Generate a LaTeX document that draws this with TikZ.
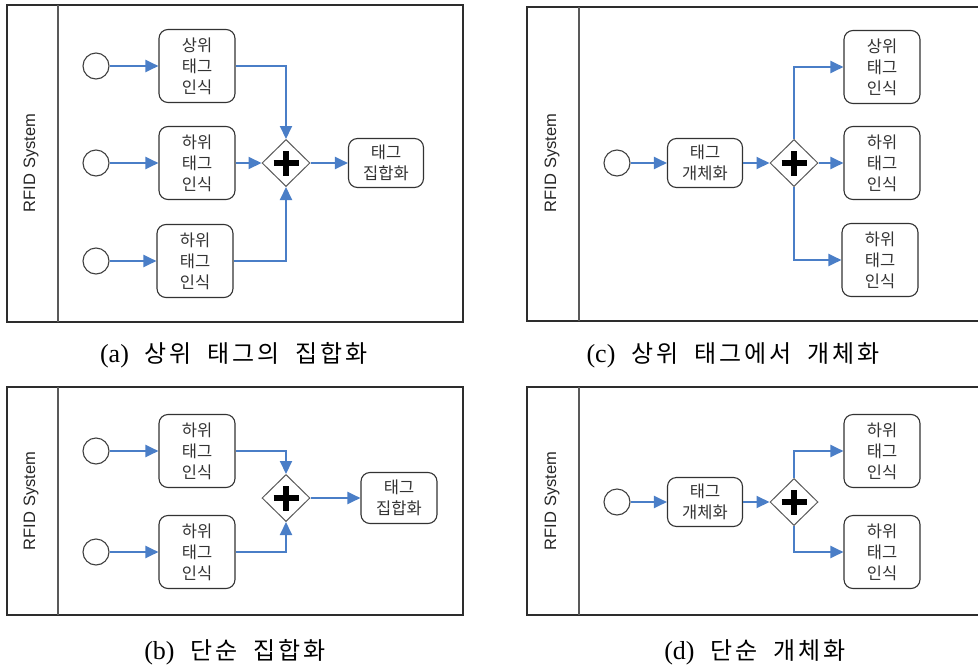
\documentclass[tikz,border=0pt]{standalone}
\usepackage{fontspec}
\setmainfont{Liberation Serif}
\newfontfamily\kr{Noto Sans CJK KR}
\newfontfamily\krcap[LetterSpace=12]{Noto Sans CJK KR}
\newfontfamily\rfidfont{Liberation Sans}
\usetikzlibrary{shapes.geometric,arrows.meta}
\definecolor{flowblue}{RGB}{74,126,199}
\definecolor{frame}{RGB}{45,45,45}
\newcommand{\capkr}[1]{{\krcap\fontsize{24}{27}\selectfont #1}}
\begin{document}
\begin{tikzpicture}[x=1pt,y=-1pt,
  lanebox/.style={draw=frame,line width=1.4pt},
  lanediv/.style={draw=gray!70!black,line width=1.2pt},
  lanelabel/.style={rotate=90,font=\rfidfont\fontsize{16.5}{18}\selectfont,text=black!85},
  startev/.style={circle,draw=black!75,line width=1.1pt,minimum size=26pt,inner sep=0pt,fill=white},
  taskbox/.style={draw=black!80,line width=1.1pt,rounded corners=9pt,fill=white,align=center,inner sep=0pt,
     font=\kr\fontsize{16.5}{21}\selectfont,text=black!80},
  tall/.style={taskbox,minimum width=76pt,minimum height=73pt},
  short/.style={taskbox,minimum width=75pt,minimum height=49pt},
  gateway/.style={diamond,draw=black!65,line width=1pt,minimum width=48pt,minimum height=47pt,inner sep=0pt,fill=white},
  plusbar/.style={line width=5.5pt,black},
  flow/.style={draw=flowblue,line width=2pt,-{Triangle[length=13pt,width=12pt]}},
  caption/.style={font=\fontsize{26}{29}\selectfont}
]
\useasboundingbox (0,0) rectangle (978,670);

% ---------------- (a)
\draw[lanebox] (7,5) rectangle (463,322);
\draw[lanediv] (58,5) -- (58,322);
\node[lanelabel] (la) at (31,163) {RFID System};
\node[startev] (sa1) at (96,66) {};
\node[startev] (sa2) at (96,163) {};
\node[startev] (sa3) at (96,261) {};
\node[tall] (ta1) at (197,66) {상위\\태그\\인식};
\node[tall] (ta2) at (197,163) {하위\\태그\\인식};
\node[tall] (ta3) at (195,261) {하위\\태그\\인식};
\node[gateway] (ga) at (286,163) {};
\node[short] (ja) at (386,163) {태그\\집합화};
\draw[flow] (sa1) -- (ta1);
\draw[flow] (sa2) -- (ta2);
\draw[flow] (sa3) -- (ta3);
\draw[flow] (ta1.east) -| (ga.north);
\draw[flow] (ta2) -- (ga);
\draw[flow] (ta3.east) -| (ga.south);
\draw[flow] (ga) -- (ja);
\node[caption] (capa) at (234,355) {(a)\hspace{16pt}\capkr{상위}\hspace{16pt}\capkr{태그의}\hspace{16pt}\capkr{집합화}};

% ---------------- (c)
\draw[lanebox] (978,7) -- (527,7) -- (527,321) -- (978,321);
\draw[lanediv] (579,7) -- (579,321);
\node[lanelabel] (lc) at (552,163) {RFID System};
\node[startev] (sc) at (617,163) {};
\node[short] (tc) at (705,163) {태그\\개체화};
\node[gateway] (gc) at (794,163) {};
\node[tall] (uc1) at (882,67) {상위\\태그\\인식};
\node[tall] (uc2) at (882,163) {하위\\태그\\인식};
\node[tall] (uc3) at (880,260) {하위\\태그\\인식};
\draw[flow] (sc) -- (tc);
\draw[flow] (tc) -- (gc);
\draw[flow] (gc.north) |- (uc1.west);
\draw[flow] (gc) -- (uc2);
\draw[flow] (gc.south) |- (uc3.west);
\node[caption] (capc) at (733,355) {(c)\hspace{16pt}\capkr{상위}\hspace{16pt}\capkr{태그에서}\hspace{16pt}\capkr{개체화}};

% ---------------- (b)
\draw[lanebox] (7,387) rectangle (463,615);
\draw[lanediv] (58,387) -- (58,615);
\node[lanelabel] (lb) at (31,501) {RFID System};
\node[startev] (sb1) at (96,451) {};
\node[startev] (sb2) at (96,552) {};
\node[tall] (tb1) at (197,451) {하위\\태그\\인식};
\node[tall] (tb2) at (197,552) {하위\\태그\\인식};
\node[gateway] (gb) at (286,498) {};
\node[taskbox,minimum width=76pt,minimum height=51pt] (jb) at (399,498) {태그\\집합화};
\draw[flow] (sb1) -- (tb1);
\draw[flow] (sb2) -- (tb2);
\draw[flow] (tb1.east) -| (gb.north);
\draw[flow] (tb2.east) -| (gb.south);
\draw[flow] (gb) -- (jb);
\node[caption] (capb) at (235,652) {(b)\hspace{16pt}\capkr{단순}\hspace{16pt}\capkr{집합화}};

% ---------------- (d)
\draw[lanebox] (978,387) -- (527,387) -- (527,615) -- (978,615);
\draw[lanediv] (579,387) -- (579,615);
\node[lanelabel] (ld) at (552,501) {RFID System};
\node[startev] (sd) at (617,502) {};
\node[short] (td) at (705,502) {태그\\개체화};
\node[gateway] (gd) at (794,502) {};
\node[tall] (ud1) at (882,451) {하위\\태그\\인식};
\node[tall] (ud2) at (882,552) {하위\\태그\\인식};
\draw[flow] (sd) -- (td);
\draw[flow] (td) -- (gd);
\draw[flow] (gd.north) |- (ud1.west);
\draw[flow] (gd.south) |- (ud2.west);
\node[caption] (capd) at (755,652) {(d)\hspace{16pt}\capkr{단순}\hspace{16pt}\capkr{개체화}};

% plus marks in gateways
\foreach \g in {ga,gb,gc,gd}{
  \draw[plusbar] ([xshift=-12.5pt]\g.center) -- ([xshift=12.5pt]\g.center);
  \draw[plusbar] ([yshift=-12.5pt]\g.center) -- ([yshift=12.5pt]\g.center);
}
\end{tikzpicture}
\end{document}
